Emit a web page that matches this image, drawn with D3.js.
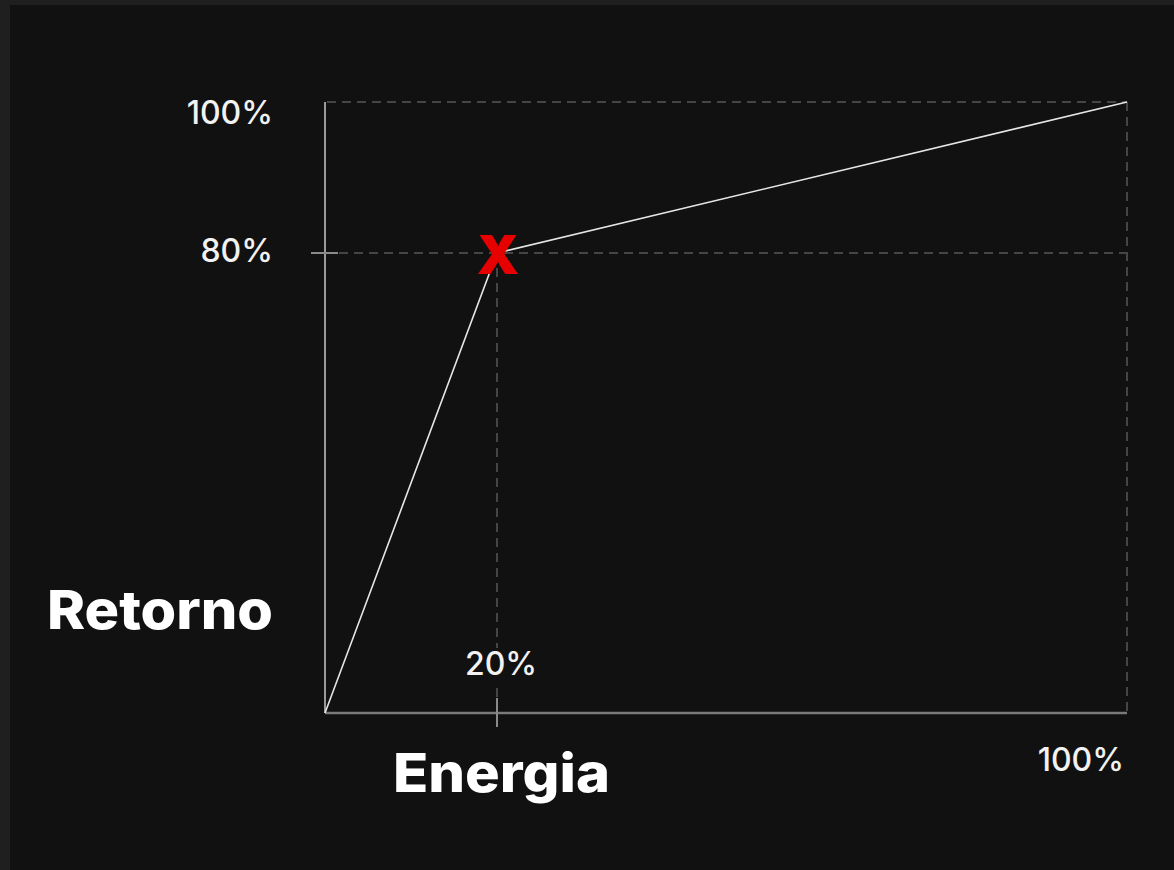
<!DOCTYPE html>
<html>
<head>
<meta charset="utf-8">
<script src="https://cdn.jsdelivr.net/npm/d3@7"></script>
<style>
  html, body { margin: 0; padding: 0; background: #1f1f1f; }
  #chart { display: block; }
</style>
</head>
<body>
<div id="chart"></div>
<script>
// data
const energy = [0, 20, 100];      // x, %
const returns = [0, 80, 100];     // y, %
const xTicks = [20, 100];
const yTicks = [80, 100];
const markPoint = {x: 20, y: 80};

const W = 1174, H = 870;

const svg = d3.select('#chart')
  .append('svg')
  .attr('width', W)
  .attr('height', H);

// panel
svg.append('rect')
  .attr('x', 10).attr('y', 5)
  .attr('width', W - 10).attr('height', H - 5)
  .attr('fill', '#111111');

// diagram is not to scale, so piecewise scales
const x = d3.scaleLinear().domain([0, 20, 100]).range([325, 497, 1127]);
const y = d3.scaleLinear().domain([0, 80, 100]).range([713, 253, 102]);

const dashCol = '#454545';

// dashed guides
const guides = svg.append('g')
  .attr('stroke', dashCol)
  .attr('stroke-width', 2)
  .attr('stroke-dasharray', '9,6')
  .attr('fill', 'none');

guides.append('line')
  .attr('x1', x(0) + 2).attr('x2', x(100))
  .attr('y1', y(100)).attr('y2', y(100));
guides.append('line')
  .attr('x1', x(0) + 14).attr('x2', x(100))
  .attr('y1', y(80)).attr('y2', y(80));
guides.append('line')
  .attr('x1', x(100)).attr('x2', x(100))
  .attr('y1', y(100)).attr('y2', y(0));
guides.append('line')
  .attr('x1', x(20)).attr('x2', x(20))
  .attr('y1', y(80)).attr('y2', y(0) - 14);

// axes
svg.append('line')
  .attr('x1', x(0)).attr('x2', x(0))
  .attr('y1', y(100)).attr('y2', y(0))
  .attr('stroke', '#9a9a9a').attr('stroke-width', 2);
svg.append('line')
  .attr('x1', x(0)).attr('x2', x(100))
  .attr('y1', y(0)).attr('y2', y(0))
  .attr('stroke', '#7a7a7a').attr('stroke-width', 2.5);

// crossing ticks
svg.append('line')
  .attr('x1', x(0) - 14).attr('x2', x(0) + 13)
  .attr('y1', y(80)).attr('y2', y(80))
  .attr('stroke', '#8a8a8a').attr('stroke-width', 2);
svg.append('line')
  .attr('x1', x(20)).attr('x2', x(20))
  .attr('y1', y(0) - 15).attr('y2', y(0) + 14)
  .attr('stroke', '#8a8a8a').attr('stroke-width', 2);

// curve
const pts = energy.map((e, i) => [e, returns[i]]);
svg.append('path')
  .datum(pts)
  .attr('fill', 'none')
  .attr('stroke', '#e6e6e6')
  .attr('stroke-width', 1.6)
  .attr('d', d3.line().x(d => x(d[0])).y(d => y(d[1])));

// y tick labels (top one sits a little below its line)
svg.selectAll('.ylab')
  .data(yTicks)
  .join('text')
  .attr('x', 273)
  .attr('y', d => y(d) + (d === 100 ? 13 : 0))
  .attr('text-anchor', 'end')
  .attr('dominant-baseline', 'middle')
  .attr('fill', '#f2f2f2')
  .style('font-family', 'Inter, sans-serif')
  .style('font-weight', 500)
  .style('font-size', '32px')
  .text(d => d + '%');

// x tick labels (20% sits above axis, 100% below right)
const xLab = svg.selectAll('.xlab')
  .data(xTicks)
  .join('g')
  .attr('transform', d => d === 100
    ? `translate(${x(d) - 3},${y(0) + 49})`
    : `translate(${x(d) + 4},${y(0) - 47})`);

xLab.filter(d => d === 20).append('rect')
  .attr('x', -38).attr('y', -18)
  .attr('width', 76).attr('height', 36)
  .attr('fill', '#111111');

xLab.append('text')
  .attr('text-anchor', d => d === 100 ? 'end' : 'middle')
  .attr('dominant-baseline', 'middle')
  .attr('fill', '#f2f2f2')
  .style('font-family', 'Inter, sans-serif')
  .style('font-weight', 500)
  .style('font-size', '32px')
  .text(d => d + '%');

// marker
svg.append('text')
  .attr('x', x(markPoint.x) + 1)
  .attr('y', y(markPoint.y) + 1)
  .attr('text-anchor', 'middle')
  .attr('dominant-baseline', 'central')
  .attr('fill', '#e60000')
  .style('font-family', 'Inter, sans-serif')
  .style('font-weight', 900)
  .style('font-size', '54px')
  .text('X');

// axis titles
svg.append('text')
  .attr('x', 47).attr('y', 629)
  .attr('fill', '#ffffff')
  .attr('textLength', 226)
  .attr('lengthAdjust', 'spacingAndGlyphs')
  .style('font-family', 'Inter, sans-serif')
  .style('font-weight', 800)
  .style('font-size', '54px')
  .text('Retorno');

svg.append('text')
  .attr('x', 393).attr('y', 792)
  .attr('fill', '#ffffff')
  .attr('textLength', 217)
  .attr('lengthAdjust', 'spacingAndGlyphs')
  .style('font-family', 'Inter, sans-serif')
  .style('font-weight', 800)
  .style('font-size', '54px')
  .text('Energia');
</script>
</body>
</html>
